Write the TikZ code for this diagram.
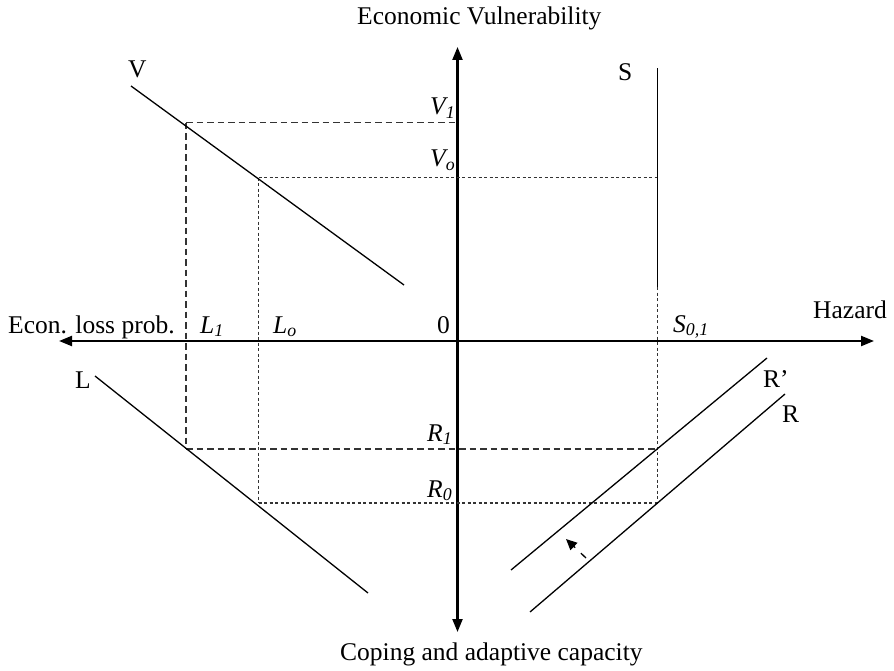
\documentclass[tikz,border=0pt]{standalone}
\usepackage{fontspec}
\setmainfont{Liberation Serif}
\usetikzlibrary{arrows.meta}
\begin{document}
\begin{tikzpicture}[x=1pt,y=-1pt,
  axis/.style={line width=2.2pt,-{Triangle[length=13pt,width=10pt]}},
  curve/.style={line width=1.3pt},
  dashln/.style={line width=1.3pt,black!80,dash pattern=on 6.5pt off 4pt},
  dotln/.style={line width=1.1pt,black!80,dash pattern=on 3pt off 2.5pt},
  lbl/.style={inner sep=0pt,anchor=base west,font=\fontsize{25.5}{30}\selectfont},
  ilbl/.style={inner sep=0pt,anchor=base west,font=\fontsize{25.5}{30}\selectfont\itshape}]
\useasboundingbox (0,0) rectangle (894,671);
% axes
\coordinate (O) at (457.5,341);
\coordinate (top) at (457.5,47);
\coordinate (bot) at (457.5,632);
\coordinate (lft) at (59,341);
\coordinate (rgt) at (874,341);
\draw[axis] (O) -- (top);
\draw[axis] (O) -- (bot);
\draw[axis] (O) -- (lft);
\draw[axis] (O) -- (rgt);
% key points
\coordinate (V1a) at (186,122.7);
\coordinate (V1b) at (457.5,122.7);
\coordinate (V0a) at (258.5,177.7);
\coordinate (V0b) at (657.7,177.7);
\coordinate (R1a) at (186,449);
\coordinate (R1b) at (657.7,449);
\coordinate (R0a) at (258.5,503);
\coordinate (R0b) at (657.7,503);
\coordinate (Sbot) at (657.7,287);
\coordinate (Stop) at (657.7,68);
% dashed / dotted guides
\draw[dashln] (V1a) -- (V1b);
\draw[dashln] (V1a) -- (R1a);
\draw[dashln] (R1a) -- (R1b);
\draw[dotln] (V0a) -- (V0b);
\draw[dotln] (V0a) -- (R0a);
\draw[dotln] (R0a) -- (R0b);
\draw[dotln] (Sbot) -- (R0b);
% curves
\coordinate (Va) at (131,86);
\coordinate (Vb) at (404,285);
\coordinate (La) at (95,376);
\coordinate (Lb) at (368,593);
\coordinate (Rpa) at (511,570);
\coordinate (Rpb) at (767,358);
\coordinate (Ra) at (530,612);
\coordinate (Rb) at (785,394);
\draw[curve] (Va) -- (Vb);
\draw[curve] (La) -- (Lb);
\draw[curve] (Rpa) -- (Rpb);
\draw[curve] (Ra) -- (Rb);
\draw[curve] (Sbot) -- (Stop);
% shift arrow
\coordinate (sha) at (586,558);
\coordinate (shb) at (566,539);
\draw[line width=1.3pt,dash pattern=on 7pt off 8pt,-{Triangle[length=11pt,width=10pt]}] (sha) -- (shb);
% labels
\node[lbl] (tEV) at (357,25) {Economic Vulnerability};
\node[lbl] (tCA) at (340,660) {Coping and adaptive capacity};
\node[lbl] (tEL) at (8,333) {Econ. loss prob.};
\node[lbl] (tHZ) at (813,318) {Hazard};
\node[lbl] (tZ) at (437,333) {0};
\node[ilbl] (tL1) at (200,333) {L\textsubscript{1}};
\node[ilbl] (tL0) at (273,333) {L\textsubscript{o}};
\node[ilbl] (tS01) at (673,332) {S\textsubscript{0,1}};
\node[lbl] (tV) at (128,78) {V};
\node[lbl] (tS) at (618,81) {S};
\node[lbl] (tL) at (75,388) {L};
\node[lbl] (tRp) at (763,387) {R’};
\node[lbl] (tR) at (782,422) {R};
\node[ilbl] (tV1) at (430,115) {V\textsubscript{1}};
\node[ilbl] (tV0) at (430,167) {V\textsubscript{o}};
\node[ilbl] (tR1) at (427,441) {R\textsubscript{1}};
\node[ilbl] (tR0) at (427,497) {R\textsubscript{0}};
\end{tikzpicture}
\end{document}
